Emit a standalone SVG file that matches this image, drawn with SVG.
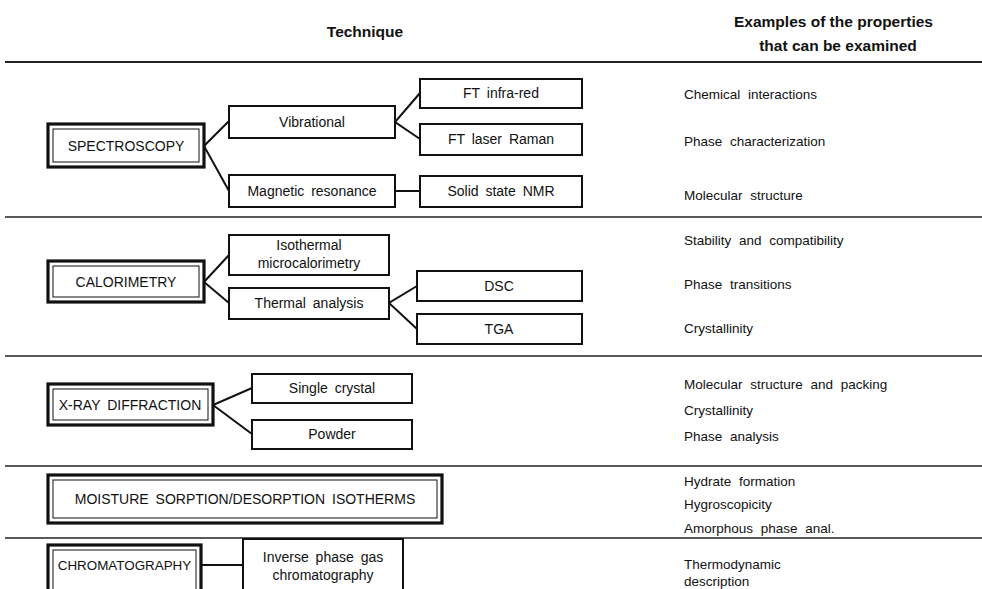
<svg xmlns="http://www.w3.org/2000/svg" width="982" height="589" viewBox="0 0 982 589">
<style>
text{font-family:"Liberation Sans",Arial,sans-serif;fill:#111}
.h{font-weight:bold;font-size:15.5px}
.t{font-size:14px;text-anchor:middle;word-spacing:3px}
.r{font-size:13.5px;word-spacing:4px}
.b{fill:#fff;stroke:#111;stroke-width:2}
.o{fill:#fff;stroke:#111;stroke-width:3.2}
.i{fill:none;stroke:#111;stroke-width:1}
.sep{stroke:#222;stroke-width:1.6}
.c{stroke:#111;stroke-width:2;fill:none}
</style>
<rect width="982" height="589" fill="#fff"/>
<g id="header">
<text class="h" x="365" y="37" text-anchor="middle">Technique</text>
<text class="h" x="734" y="27">Examples of the properties</text>
<text class="h" x="838" y="51" text-anchor="middle">that can be examined</text>
</g>
<g id="separators">
<line class="sep" x1="5" y1="62" x2="982" y2="62" style="stroke-width:2"/>
<line class="sep" x1="5" y1="217" x2="982" y2="217"/>
<line class="sep" x1="5" y1="356" x2="982" y2="356"/>
<line class="sep" x1="5" y1="466" x2="982" y2="466"/>
<line class="sep" x1="5" y1="538" x2="982" y2="538"/>
</g>
<g id="connectors">
<polyline class="c" points="229,121 204,146 229,191"/>
<polyline class="c" points="420,93 395,122 420,139"/>
<line class="c" x1="395" y1="191" x2="420" y2="191"/>
<polyline class="c" points="229,255 204,282 229,303"/>
<polyline class="c" points="417,286 389,303 417,329"/>
<polyline class="c" points="252,388 213,405 252,434"/>
<line class="c" x1="201" y1="565" x2="243" y2="565"/>
</g>
<g id="spectroscopy">
<rect class="o" x="48" y="124" width="156" height="43"/>
<rect class="i" x="53" y="129" width="146" height="33"/>
<text class="t" x="126" y="151">SPECTROSCOPY</text>
</g>
<g id="vibrational"><rect class="b" x="229" y="106" width="166" height="32"/><text class="t" x="312" y="127">Vibrational</text></g>
<g id="ft-infrared"><rect class="b" x="420" y="79" width="162" height="29"/><text class="t" x="501" y="98">FT infra-red</text></g>
<g id="ft-raman"><rect class="b" x="420" y="124" width="162" height="31"/><text class="t" x="501" y="144">FT laser Raman</text></g>
<g id="magnetic"><rect class="b" x="229" y="175" width="166" height="32"/><text class="t" x="312" y="196">Magnetic resonance</text></g>
<g id="nmr"><rect class="b" x="420" y="176" width="162" height="31"/><text class="t" x="501" y="196">Solid state NMR</text></g>

<g id="calorimetry">
<rect class="o" x="48" y="261" width="156" height="41"/>
<rect class="i" x="53" y="266" width="146" height="31"/>
<text class="t" x="126" y="287">CALORIMETRY</text>
</g>
<g id="isothermal"><rect class="b" x="229" y="235" width="160" height="40"/><text class="t" x="309" y="250">Isothermal</text><text class="t" x="309" y="268">microcalorimetry</text></g>
<g id="thermal"><rect class="b" x="229" y="288" width="160" height="31"/><text class="t" x="309" y="308">Thermal analysis</text></g>
<g id="dsc"><rect class="b" x="417" y="271" width="165" height="30"/><text class="t" x="499" y="291">DSC</text></g>
<g id="tga"><rect class="b" x="417" y="314" width="165" height="30"/><text class="t" x="499" y="334">TGA</text></g>

<g id="xray">
<rect class="o" x="48" y="384" width="165" height="41"/>
<rect class="i" x="53" y="389" width="155" height="31"/>
<text class="t" x="130" y="410">X-RAY DIFFRACTION</text>
</g>
<g id="single"><rect class="b" x="252" y="374" width="160" height="29"/><text class="t" x="332" y="393">Single crystal</text></g>
<g id="powder"><rect class="b" x="252" y="420" width="160" height="29"/><text class="t" x="332" y="439">Powder</text></g>

<g id="moisture">
<rect class="o" x="48" y="475" width="394" height="48"/>
<rect class="i" x="53" y="480" width="384" height="38"/>
<text class="t" x="245" y="504">MOISTURE SORPTION/DESORPTION ISOTHERMS</text>
</g>

<g id="chromatography">
<rect class="o" x="48" y="545" width="153" height="60"/>
<rect class="i" x="53" y="550" width="143" height="50"/>
<text class="t" x="124.5" y="570" style="font-size:13.4px">CHROMATOGRAPHY</text>
</g>
<g id="igc"><rect class="b" x="243" y="539" width="160" height="60"/><text class="t" x="323" y="562">Inverse phase gas</text><text class="t" x="323" y="580">chromatography</text></g>

<g id="properties">
<text class="r" x="684" y="99">Chemical interactions</text>
<text class="r" x="684" y="146">Phase characterization</text>
<text class="r" x="684" y="200">Molecular structure</text>
<text class="r" x="684" y="245">Stability and compatibility</text>
<text class="r" x="684" y="289">Phase transitions</text>
<text class="r" x="684" y="333">Crystallinity</text>
<text class="r" x="684" y="389">Molecular structure and packing</text>
<text class="r" x="684" y="415">Crystallinity</text>
<text class="r" x="684" y="441">Phase analysis</text>
<text class="r" x="684" y="486">Hydrate formation</text>
<text class="r" x="684" y="509">Hygroscopicity</text>
<text class="r" x="684" y="533">Amorphous phase anal.</text>
<text class="r" x="684" y="569">Thermodynamic</text>
<text class="r" x="684" y="586">description</text>
</g>
</svg>
